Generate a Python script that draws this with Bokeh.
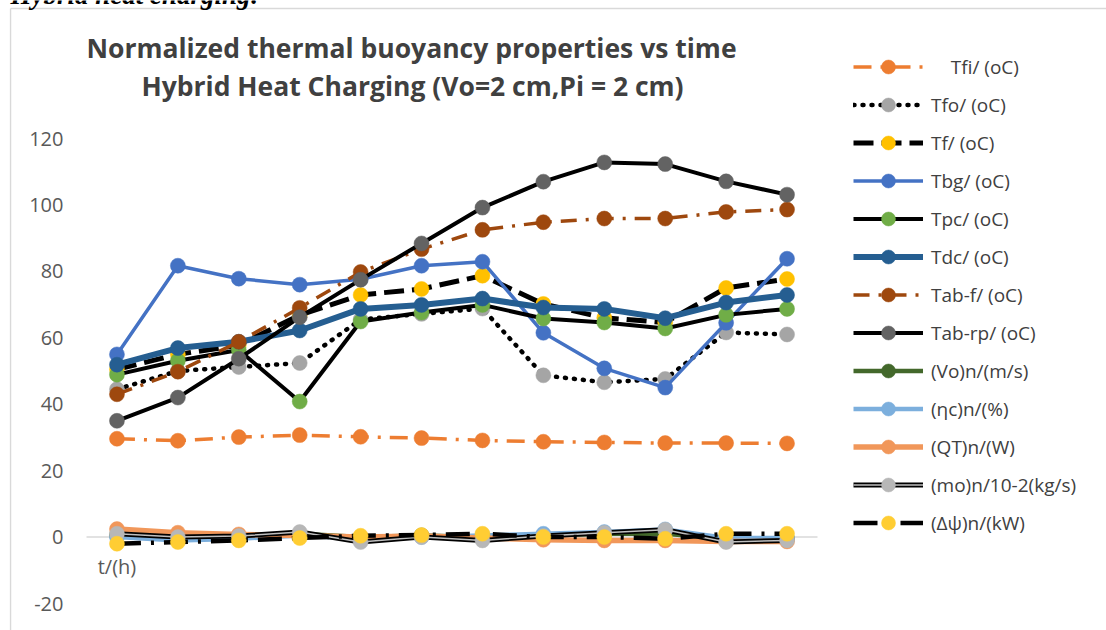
from bokeh.plotting import figure
from bokeh.models import Range1d, Legend, LegendItem, FixedTicker
from bokeh.embed import file_html
from bokeh.resources import INLINE
from bokeh.core.properties import value

# ---- data ----
hours = [1, 2, 3, 4, 5, 6, 7, 8, 9, 10, 11, 12]
y_ticks = [-20, 0, 20, 40, 60, 80, 100, 120]
x_label = "t/(h)"

tfi = [29.6, 29.0, 30.1, 30.7, 30.2, 29.8, 29.1, 28.7, 28.5, 28.3, 28.3, 28.2]
tfo = [44.5, 50.0, 51.2, 52.4, 65.5, 67.2, 68.8, 48.7, 46.6, 47.6, 61.6, 61.0]
tf = [50.5, 55.0, 57.8, 66.8, 72.9, 74.7, 78.7, 70.2, 66.0, 64.6, 75.0, 77.7]
tbg = [55.0, 81.7, 77.8, 76.0, 77.6, 81.7, 82.9, 61.5, 50.8, 45.0, 64.5, 83.8]
tpc = [48.9, 53.1, 56.3, 40.8, 64.9, 67.6, 69.9, 65.8, 64.6, 62.8, 66.9, 68.7]
tdc = [51.9, 56.9, 58.8, 62.2, 68.7, 69.9, 71.8, 69.1, 68.7, 65.9, 70.6, 72.9]
tab_f = [43.0, 49.8, 58.8, 69.0, 79.8, 86.7, 92.5, 94.8, 95.9, 95.9, 97.9, 98.6]
tab_rp = [35.0, 42.0, 53.7, 66.2, 77.5, 88.4, 99.2, 107.0, 112.8, 112.3, 107.1, 103.1]
vo_n = [0.5, -0.5, 0.0, 1.0, 0.0, 0.5, 0.0, 0.5, 1.0, 1.0, -0.5, -0.5]
eta_n = [0.0, -1.0, -0.5, 0.5, -0.5, 0.0, 0.5, 1.0, 1.5, 2.3, -0.3, -0.3]
qt_n = [2.4, 1.3, 0.8, 0.5, 0.0, 0.3, -0.3, -0.8, -1.0, -1.0, -1.3, -1.3]
mo_n = [1.0, 0.0, 0.3, 1.5, -1.5, 0.0, -1.0, 0.3, 1.3, 2.2, -1.5, -1.0]
dpsi_n = [-2.0, -1.5, -1.0, -0.3, 0.4, 0.6, 1.0, 0.0, 0.0, -0.5, 1.0, 1.0]

labels = ["\u00a0\u00a0\u00a0\u00a0Tfi/ (oC)", "Tfo/ (oC)", "Tf/ (oC)", "Tbg/ (oC)", "Tpc/ (oC)",
          "Tdc/ (oC)", "Tab-f/ (oC)", "Tab-rp/ (oC)", "(Vo)n/(m/s)", "(\u03b7c)n/(%)",
          "(QT)n/(W)", "(mo)n/10-2(kg/s)", "(\u0394\u03c8)n/(kW)"]

title_1 = "Normalized thermal buoyancy properties vs time"
title_2 = "Hybrid Heat Charging (Vo=2 cm,Pi = 2 cm)"
top_text = "Hybrid heat charging:"

# ---- styles ----
styles = [
    # line color, width, dash, cap, marker color
    ("#ED7D31", 3.5, "18 9 3 9", "butt", "#ED7D31"),
    ("#000000", 4.5, "1 8", "round", "#A5A5A5"),
    ("#000000", 5, "20 8", "butt", "#FFC000"),
    ("#4472C4", 3.5, "solid", "butt", "#4472C4"),
    ("#000000", 4, "solid", "butt", "#70AD47"),
    ("#255E91", 6, "solid", "butt", "#255E91"),
    ("#9E480E", 3.5, "16 9 3 9", "butt", "#9E480E"),
    ("#000000", 4, "solid", "butt", "#636363"),
    ("#43682B", 4.5, "solid", "butt", "#43682B"),
    ("#7CAFDD", 4.5, "solid", "butt", "#7CAFDD"),
    ("#F1975A", 5.5, "solid", "butt", "#F1975A"),
    ("#000000", 5, "solid", "butt", "#B7B7B7"),
    ("#000000", 4.5, "24 10 3 10", "butt", "#FFCD33"),
]
data = [tfi, tfo, tf, tbg, tpc, tdc, tab_f, tab_rp, vo_n, eta_n, qt_n, mo_n, dpsi_n]

# ---- layout (canvas pixels) ----
W, H = 1106, 630
FL = 9                        # frame left
LABEL_RIGHT = 63              # right edge of the y tick labels
X0_PX, X1_PX = 86, 817        # category band 0.5 .. 12.5
Y0_PX, Y1_PX = 603, 138       # value -20 .. 120
XS = (X1_PX - X0_PX) / 12.0
YS = (Y0_PX - Y1_PX) / 140.0


def dx(px):
    return 0.5 + (px - X0_PX) / XS


def dy(py):
    return -20 + (Y0_PX - py) / YS


p = figure(width=W, height=H, output_backend="svg", toolbar_location=None,
           x_range=Range1d(dx(FL), dx(W)), y_range=Range1d(dy(H), dy(0)),
           x_axis_location=None, min_border_left=FL, min_border_right=0,
           min_border_top=0, min_border_bottom=0)
p.outline_line_color = None
p.xgrid.visible = False
p.ygrid.visible = False
p.background_fill_color = "white"
p.border_fill_color = "white"

ax = p.yaxis[0]
ax.ticker = FixedTicker(ticks=y_ticks)
ax.major_label_overrides = {t: str(t) for t in y_ticks}
ax.axis_line_color = None
ax.major_tick_line_color = None
ax.minor_tick_line_color = None
ax.major_tick_out = 0
ax.major_tick_in = 0
ax.major_label_standoff = -(LABEL_RIGHT - FL)
ax.major_label_text_font = "Open Sans"
ax.major_label_text_font_size = "20px"
ax.major_label_text_color = "#595959"

# chart-area border and zero line
p.segment(x0=[dx(10), dx(10)], y0=[dy(8), dy(8)], x1=[dx(W + 5), dx(10)], y1=[dy(8), dy(H + 5)],
          line_color="#D9D9D9", line_width=1.5)
p.segment(x0=[0.5], y0=[0], x1=[12.5], y1=[0], line_color="#D9D9D9", line_width=1.5)

items = []
for lab, vals, (lc, lw, dash, cap, mc) in zip(labels, data, styles):
    rs = []
    r = p.line(hours, vals, line_color=lc, line_width=lw, line_dash=dash, line_cap=cap,
               line_join="round")
    rs.append(r)
    if lab.startswith("(mo)"):
        r2 = p.line(hours, vals, line_color="#BFBFBF", line_width=1.5)
        rs.append(r2)
    s = p.scatter(hours, vals, size=15, fill_color=mc, line_color=mc, line_width=0.5)
    rs.append(s)
    items.append(LegendItem(label=lab, renderers=rs))

legend = Legend(items=items, location=(853 - FL, 90), orientation="vertical",
                glyph_width=70, glyph_height=35, label_height=20, spacing=3, padding=0, margin=0,
                label_standoff=8, label_text_font="Open Sans", label_text_font_size="19px",
                label_text_color="#404040", border_line_color=None,
                background_fill_alpha=0)
p.add_layout(legend, "center")

p.text(x=[1], y=[dy(566)], text=[x_label], text_align="center", text_baseline="middle",
       text_font=value("Open Sans"), text_font_size="20px", text_color="#595959")

p.text(x=[dx(411), dx(412)], y=[dy(47), dy(85)], text=[title_1, title_2],
       text_align="center", text_baseline="middle", text_font=value("Open Sans"),
       text_font_style="bold", text_font_size="26.5px", text_color="#404040")

p.text(x=[dx(10)], y=[dy(-5.5)], text=[top_text], text_align="left", text_baseline="alphabetic",
       text_font=value("Liberation Serif"), text_font_style="bold italic",
       text_font_size="27px", text_color="#000000")

open("out.html", "w").write(file_html(p, INLINE))
